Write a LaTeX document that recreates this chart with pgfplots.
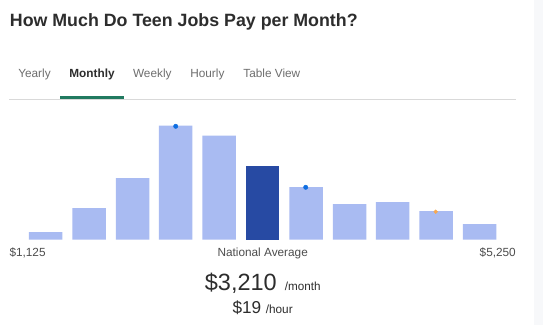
\documentclass[border=0pt]{standalone}
\usepackage{fontspec}
\setmainfont{Liberation Sans}
\usepackage{pgfplots}
\pgfplotsset{compat=1.18}
\definecolor{barlight}{RGB}{169,187,242}
\definecolor{bardark}{RGB}{39,74,163}
\definecolor{dotblue}{RGB}{14,110,225}
\definecolor{dotorange}{RGB}{247,168,80}
\definecolor{tabgreen}{RGB}{33,122,96}
\definecolor{rulegray}{RGB}{217,217,217}
\definecolor{stripgray}{RGB}{247,248,250}
\definecolor{titlecol}{RGB}{45,45,45}
\definecolor{tabgray}{RGB}{110,110,110}
\definecolor{labgray}{RGB}{77,77,77}
\begin{document}
\begin{tikzpicture}
\fill[white] (0,0) rectangle (543pt,325pt);
\fill[stripgray] (534pt,0) rectangle (543pt,325pt);
\begin{axis}[
  at={(0,0)}, anchor=south west,
  scale only axis, width=543pt, height=325pt,
  xmin=0, xmax=543, ymin=-85.3, ymax=239.7,
  hide axis, clip=false,
]
% light bars
\addplot[ybar, bar width=33.5, fill=barlight, draw=none] coordinates {
 (45.5,7.7) (89,31.7) (132.5,61.7) (175.5,114) (219,104)
 (306,52.7) (349.5,35.7) (392.5,37.7) (436,28.7) (479.5,15.7)};
% dark bar (national average)
\addplot[ybar, bar width=33.5, fill=bardark, draw=none] coordinates {(262.5,73.7)};
% markers
\addplot[only marks, mark=*, mark size=2.2, color=dotblue] coordinates {(175.7,113.4) (305.7,52.4)};
\addplot[only marks, mark=*, mark size=1.9, color=dotorange] coordinates {(435.7,28)};
% title
\node[anchor=base west, text=titlecol, inner sep=0pt, font=\fontsize{17.8}{20}\selectfont\bfseries] at (axis cs:9.7,213) {How Much Do Teen Jobs Pay per Month?};
% tabs
\node[anchor=base, text=tabgray, inner sep=0pt, font=\fontsize{11.8}{14}\selectfont] at (axis cs:34.5,162.4) {Yearly};
\node[anchor=base, text=titlecol, inner sep=0pt, font=\fontsize{11.8}{14}\selectfont\bfseries] at (axis cs:92,162.4) {Monthly};
\node[anchor=base, text=tabgray, inner sep=0pt, font=\fontsize{11.8}{14}\selectfont] at (axis cs:152.3,162.4) {Weekly};
\node[anchor=base, text=tabgray, inner sep=0pt, font=\fontsize{11.8}{14}\selectfont] at (axis cs:207.4,162.4) {Hourly};
\node[anchor=base, text=tabgray, inner sep=0pt, font=\fontsize{11.8}{14}\selectfont] at (axis cs:271.8,162.4) {Table View};
\fill[rulegray] (axis cs:8.7,140.7) rectangle (axis cs:516,139.7);
\fill[tabgreen] (axis cs:60,143.7) rectangle (axis cs:124,140.7);
% bottom labels
\node[anchor=base west, text=labgray, inner sep=0pt, font=\fontsize{11.8}{14}\selectfont] at (axis cs:9.3,-17) {\$1,125};
\node[anchor=base, text=labgray, inner sep=0pt, font=\fontsize{11.8}{14}\selectfont] at (axis cs:262.7,-17) {National Average};
\node[anchor=base east, text=labgray, inner sep=0pt, font=\fontsize{11.8}{14}\selectfont] at (axis cs:516,-17) {\$5,250};
\node[anchor=base east, text=titlecol, inner sep=0pt, font=\fontsize{23.5}{26}\selectfont] at (axis cs:277,-50.5) {\$3,210};
\node[anchor=base west, text=titlecol, inner sep=0pt, font=\fontsize{11.7}{14}\selectfont] at (axis cs:284.6,-50.5) {/month};
\node[anchor=base east, text=titlecol, inner sep=0pt, font=\fontsize{17.2}{20}\selectfont] at (axis cs:261.4,-73.7) {\$19};
\node[anchor=base west, text=titlecol, inner sep=0pt, font=\fontsize{11.8}{14}\selectfont] at (axis cs:265.6,-73.7) {/hour};
\end{axis}
\end{tikzpicture}
\end{document}
